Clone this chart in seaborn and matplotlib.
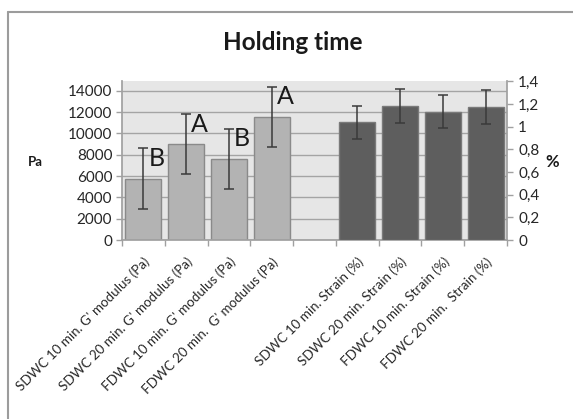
import matplotlib
matplotlib.use("Agg")
import matplotlib.pyplot as plt
from matplotlib.lines import Line2D
from matplotlib.ticker import FixedLocator, FuncFormatter
import numpy as np
import pandas as pd
import seaborn as sns

# ---- data -------------------------------------------------------------
modulus_labels = [
    "SDWC 10 min. G' modulus (Pa)",
    "SDWC 20 min. G' modulus (Pa)",
    "FDWC 10 min. G' modulus (Pa)",
    "FDWC 20 min.  G' modulus (Pa)",
]
modulus_values = [5730, 8970, 7610, 11560]
modulus_errors = [2860, 2810, 2800, 2810]
modulus_letters = ["B", "A", "B", "A"]

strain_labels = [
    "SDWC 10 min. Strain (%)",
    "SDWC 20 min. Strain (%)",
    "FDWC 10 min. Strain (%)",
    "FDWC 20 min.  Strain (%)",
]
strain_values = [1.04, 1.18, 1.135, 1.175]
strain_errors = [0.147, 0.150, 0.148, 0.152]

gap_label = " "
category_order = modulus_labels + [gap_label] + strain_labels

left_ticks = [0, 2000, 4000, 6000, 8000, 10000, 12000, 14000]
right_ticks = [0, 0.2, 0.4, 0.6, 0.8, 1.0, 1.2, 1.4]

modulus_df = pd.DataFrame({"category": modulus_labels, "value": modulus_values})
strain_df = pd.DataFrame({"category": strain_labels, "value": strain_values})

# ---- style ------------------------------------------------------------
sns.set_theme(style="white")
plt.rcParams["font.family"] = ["Lato", "DejaVu Sans"]

W, H = 573, 419
fig = plt.figure(figsize=(W / 100, H / 100), dpi=100)
ax = fig.add_axes([122 / W, 1 - 240 / H, (507 - 122) / W, (240 - 81.5) / H])
ax.set_facecolor("#e6e6e6")
ax.set_axisbelow(True)

light_bar = "#b3b3b3"
dark_bar = "#5e5e5e"
text_col = "#262626"
axis_col = "#a0a0a0"

sns.barplot(data=modulus_df, x="category", y="value", order=category_order,
            color=light_bar, saturation=1, width=0.84, errorbar=None,
            edgecolor="#8a8a8a", linewidth=1.0, ax=ax)

ax2 = ax.twinx()
sns.barplot(data=strain_df, x="category", y="value", order=category_order,
            color=dark_bar, saturation=1, width=0.84, errorbar=None,
            edgecolor="#7a7a7a", linewidth=1.0, ax=ax2)

# error bars placed on the bar centres
mod_x = [category_order.index(c) for c in modulus_labels]
str_x = [category_order.index(c) for c in strain_labels]
ax.errorbar(mod_x, modulus_values, yerr=modulus_errors, fmt="none",
            ecolor="#3a3a3a", elinewidth=1.1, capsize=3.5, capthick=1.1, zorder=5)
ax2.errorbar(str_x, strain_values, yerr=strain_errors, fmt="none",
             ecolor="#3a3a3a", elinewidth=1.1, capsize=3.5, capthick=1.1, zorder=5)

# significance letters next to the error-bar caps
for xi, v, e, letter in zip(mod_x, modulus_values, modulus_errors, modulus_letters):
    ax.text(xi + 0.12, v + e + 150, letter, ha="left", va="top",
            fontsize=18, color="#1a1a1a", zorder=6)

# ---- axes -------------------------------------------------------------
ax.set_xlim(-0.5, len(category_order) - 0.5)
ax.set_ylim(0, 14860)
ax2.set_ylim(0, 1.4)

ax.yaxis.set_major_locator(FixedLocator(left_ticks))
ax.yaxis.set_major_formatter(FuncFormatter(lambda v, p: f"{int(v)}"))
ax2.yaxis.set_major_locator(FixedLocator(right_ticks))
ax2.yaxis.set_major_formatter(
    FuncFormatter(lambda v, p: (f"{v:.1f}".rstrip("0").rstrip(".")).replace(".", ",")))

ax.grid(axis="y", color="#a4a4a4", linewidth=1.0)
ax.grid(axis="x", visible=False)
ax2.grid(False)

for a in (ax, ax2):
    a.set_xlabel("")
    a.set_ylabel("")
    for s in a.spines.values():
        s.set_visible(False)

ax.spines["left"].set_visible(True)
ax.spines["left"].set_color(axis_col)
ax.spines["bottom"].set_visible(True)
ax.spines["bottom"].set_color(axis_col)
ax2.spines["right"].set_visible(True)
ax2.spines["right"].set_color(axis_col)

ax.tick_params(axis="y", which="major", length=4, width=1, color=axis_col,
               labelsize=11, labelcolor=text_col, pad=3)
ax2.tick_params(axis="y", which="major", length=4, width=1, color=axis_col,
                labelsize=11, labelcolor=text_col, pad=4)

# category labels at bar centres, tick marks between categories
ax.set_xticks(range(len(category_order)))
ax.set_xticklabels(category_order, rotation=45, ha="right",
                   rotation_mode="anchor", fontsize=9.6, color=text_col)
ax.tick_params(axis="x", which="major", length=0, pad=11)
ax.set_xticks(np.arange(-0.5, len(category_order), 1.0), minor=True)
ax.tick_params(axis="x", which="minor", length=4, width=1, color=axis_col,
               direction="out", bottom=True)
ax2.tick_params(axis="x", which="both", length=0, labelbottom=False)

# ---- texts ------------------------------------------------------------
fig.text(293 / W, 1 - 43 / H, "Holding time", ha="center", va="center",
         fontsize=17.5, fontweight="bold", color="#1a1a1a")
fig.text(35 / W, 1 - 162 / H, "Pa", ha="center", va="center",
         fontsize=9.5, fontweight="bold", color="#1a1a1a")
fig.text(552 / W, 1 - 162 / H, "%", ha="center", va="center",
         fontsize=12, fontweight="bold", color="#1a1a1a")

# chart frame
fig.add_artist(Line2D([7.5 / W, 7.5 / W], [0, 1 - 12 / H],
                      transform=fig.transFigure, color="#9c9c9c", linewidth=1.5))
fig.add_artist(Line2D([7.5 / W, 1], [1 - 12 / H, 1 - 12 / H],
                      transform=fig.transFigure, color="#9c9c9c", linewidth=1.5))

fig.savefig("out.png", dpi=100, facecolor="white")
